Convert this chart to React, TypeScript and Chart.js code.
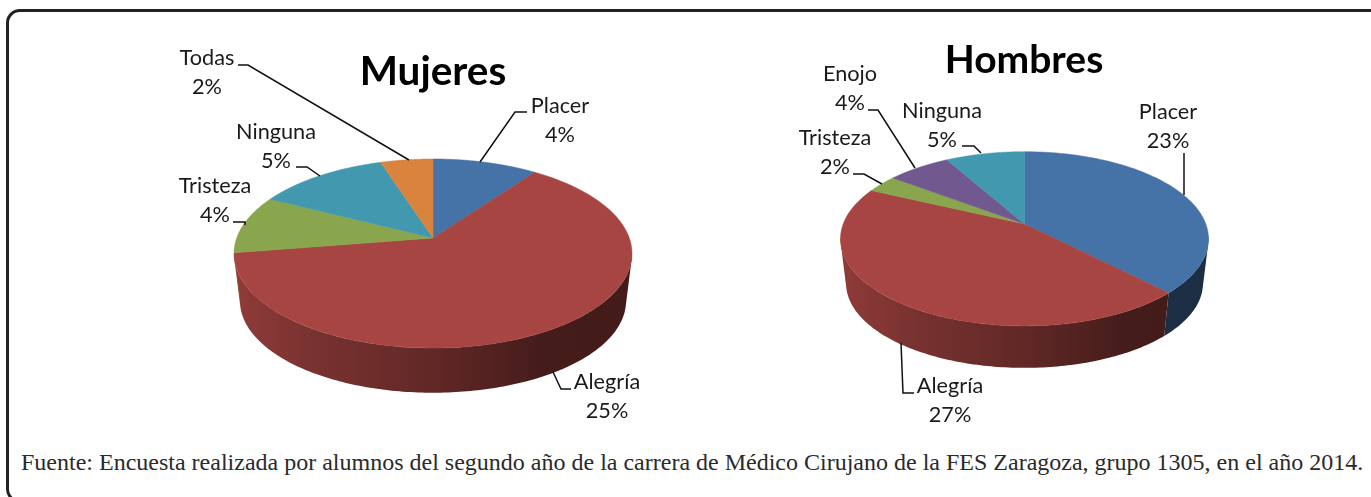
import React, { useEffect, useRef } from "react";
import { Chart, registerables } from "chart.js";

Chart.register(...registerables);

const mujeresLabels = ["Placer", "Alegría", "Tristeza", "Ninguna", "Todas"];
const mujeresValues = [4, 25, 4, 5, 2];
const hombresLabels = ["Placer", "Alegría", "Tristeza", "Enojo", "Ninguna"];
const hombresValues = [23, 27, 2, 4, 5];
const mujeresColors = ["#4572A7", "#A74542", "#89A54E", "#4198AF", "#D9833E"];
const hombresColors = ["#4572A7", "#A74542", "#89A54E", "#71588F", "#4198AF"];
const footnote =
  "Fuente: Encuesta realizada por alumnos del segundo año de la carrera de Médico Cirujano de la FES Zaragoza, grupo 1305, en el año 2014.";

type Pt = [number, number];
interface PieLayout {
  title: string;
  titlePos: Pt;
  titleSize: number;
  apex: Pt;
  A: number;
  B: number;
  k: number;
  scaleBottom: number;
  depth: number;
  labelPos: Pt[];
  leaders: Pt[][];
}

const mujeresLayout: PieLayout = {
  title: "Mujeres",
  titlePos: [433, 72],
  titleSize: 40.5,
  apex: [433, 238],
  A: 196.3,
  B: 92,
  k: 0.164,
  scaleBottom: 0.97,
  depth: 48,
  labelPos: [[560, 106], [607, 382], [215, 186], [276, 132], [207, 58]],
  leaders: [
    [[527, 112], [515, 112], [480, 162]],
    [[553, 372], [561, 389], [571, 389]],
    [[233, 222], [245, 222], [245, 225]],
    [[296, 167], [307, 167], [320, 176]],
    [[238, 65], [248, 65], [409, 160]],
  ],
};

const hombresLayout: PieLayout = {
  title: "Hombres",
  titlePos: [1024, 60],
  titleSize: 39,
  apex: [1024.5, 224],
  A: 181.3,
  B: 84.6,
  k: 0.17,
  scaleBottom: 0.97,
  depth: 45,
  labelPos: [[1168, 112], [950, 386], [835, 138], [850, 74], [942, 111]],
  leaders: [
    [[1184, 153], [1184, 195]],
    [[901, 343], [903, 393], [914, 393]],
    [[853, 174], [864, 174], [882, 184]],
    [[868, 110], [878, 110], [915, 168]],
    [[962, 146], [974, 146], [981, 153]],
  ],
};

function hexRgb(hex: string): number[] {
  const n = parseInt(hex.slice(1), 16);
  return [(n >> 16) & 255, (n >> 8) & 255, n & 255];
}

function shade(hex: string, f: number): string {
  const [r, g, b] = hexRgb(hex);
  return `rgb(${Math.round(r * f)},${Math.round(g * f)},${Math.round(b * f)})`;
}

function signedArea(pts: Pt[]): number {
  let s = 0;
  pts.forEach((p, i) => {
    const q = pts[(i + 1) % pts.length];
    s += p[0] * q[1] - q[0] * p[1];
  });
  return s;
}

function makePlugin(layout: PieLayout, offsetX: number) {
  const [ax, ay] = layout.apex;
  const top = (a: number): Pt => {
    const u = Math.cos(a);
    const v = Math.sin(a);
    const w = 1 - layout.k * v;
    return [ax - offsetX + (layout.A * u) / w, ay + (layout.B * v) / w];
  };
  const bottom = (a: number): Pt => {
    const u = Math.cos(a);
    const v = Math.sin(a);
    const w = 1 - layout.k * v;
    return [
      ax - offsetX + (layout.scaleBottom * layout.A * u) / w,
      ay + layout.depth + (layout.scaleBottom * layout.B * v) / w,
    ];
  };
  return {
    id: "pie3d" + layout.title,
    beforeDatasetDraw(chart: any) {
      const ctx = chart.ctx as CanvasRenderingContext2D;
      const meta = chart.getDatasetMeta(0);
      const colors = chart.data.datasets[0].backgroundColor as string[];
      const left = ax - offsetX - layout.A * 1.02;
      const width = layout.A * 2.04;
      ctx.save();
      meta.data.forEach((arc: any, i: number) => {
        const { startAngle: s, endAngle: e } = arc;
        const g = ctx.createLinearGradient(left, 0, left + width, 0);
        g.addColorStop(0, shade(colors[i], 0.86));
        g.addColorStop(0.2, shade(colors[i], 0.72));
        g.addColorStop(0.5, shade(colors[i], 0.58));
        g.addColorStop(0.78, shade(colors[i], 0.41));
        g.addColorStop(1, shade(colors[i], 0.4));
        const steps = Math.max(2, Math.ceil((e - s) * 60));
        ctx.beginPath();
        let any = false;
        for (let j = 0; j < steps; j++) {
          const a0 = s + ((e - s) * j) / steps;
          const a1 = s + ((e - s) * (j + 1)) / steps;
          if (Math.sin((a0 + a1) / 2) < layout.k - 0.03) continue;
          let pts: Pt[] = [top(a0), top(a1), bottom(a1), bottom(a0)];
          if (signedArea(pts) < 0) pts = pts.reverse();
          pts.forEach((p, n) => (n ? ctx.lineTo(p[0], p[1]) : ctx.moveTo(p[0], p[1])));
          ctx.closePath();
          any = true;
        }
        if (any) {
          ctx.fillStyle = g;
          ctx.fill("nonzero");
        }
      });
      meta.data.forEach((arc: any, i: number) => {
        const steps = 90;
        const { startAngle: s, endAngle: e } = arc;
        ctx.beginPath();
        ctx.moveTo(ax - offsetX, ay);
        for (let j = 0; j <= steps; j++) {
          const p = top(s + ((e - s) * j) / steps);
          ctx.lineTo(p[0], p[1]);
        }
        ctx.closePath();
        ctx.fillStyle = colors[i];
        ctx.strokeStyle = colors[i];
        ctx.lineWidth = 0.5;
        ctx.fill();
        ctx.stroke();
      });
      ctx.restore();
      return false;
    },
    afterDraw(chart: any) {
      const ctx = chart.ctx as CanvasRenderingContext2D;
      const labels = chart.data.labels as string[];
      const values = chart.data.datasets[0].data as number[];
      ctx.save();
      ctx.strokeStyle = "#111";
      ctx.lineWidth = 1.5;
      layout.leaders.forEach((pts) => {
        ctx.beginPath();
        pts.forEach((p, j) =>
          j ? ctx.lineTo(p[0] - offsetX, p[1]) : ctx.moveTo(p[0] - offsetX, p[1])
        );
        ctx.stroke();
      });
      ctx.fillStyle = "#1a1a1a";
      ctx.textAlign = "center";
      ctx.textBaseline = "middle";
      ctx.font = "21.7px Lato";
      labels.forEach((l, i) => {
        const [x, y] = layout.labelPos[i];
        ctx.fillText(l, x - offsetX, y);
        ctx.fillText(`${values[i]}%`, x - offsetX, y + 29);
      });
      ctx.fillStyle = "#000";
      ctx.font = `bold ${layout.titleSize}px Lato`;
      ctx.fillText(layout.title, layout.titlePos[0] - offsetX, layout.titlePos[1]);
      ctx.restore();
    },
  };
}

function makeChart(
  canvas: HTMLCanvasElement,
  labels: string[],
  values: number[],
  colors: string[],
  layout: PieLayout,
  offsetX: number
) {
  return new Chart(canvas, {
    type: "pie",
    data: { labels, datasets: [{ data: values, backgroundColor: colors, borderWidth: 0 }] },
    options: {
      responsive: false,
      animation: false,
      plugins: { legend: { display: false }, tooltip: { enabled: false } },
    },
    plugins: [makePlugin(layout, offsetX)],
  } as any);
}

export default function App() {
  const leftRef = useRef<HTMLCanvasElement>(null);
  const rightRef = useRef<HTMLCanvasElement>(null);
  useEffect(() => {
    const a = makeChart(leftRef.current!, mujeresLabels, mujeresValues, mujeresColors, mujeresLayout, 0);
    const b = makeChart(rightRef.current!, hombresLabels, hombresValues, hombresColors, hombresLayout, 700);
    return () => {
      a.destroy();
      b.destroy();
    };
  }, []);
  return (
    <div style={{ position: "fixed", left: 0, top: 0, width: 1371, height: 497, background: "#fff", overflow: "hidden" }}>
      <div
        style={{
          position: "absolute",
          left: 6,
          top: 9,
          width: 1400,
          height: 488,
          border: "3px solid #222",
          borderRadius: 14,
          boxSizing: "content-box",
        }}
      />
      <canvas ref={leftRef} width={700} height={440} style={{ position: "absolute", left: 0, top: 0 }} />
      <canvas ref={rightRef} width={671} height={440} style={{ position: "absolute", left: 700, top: 0 }} />
      <div
        style={{
          position: "absolute",
          left: 21,
          top: 449,
          whiteSpace: "nowrap",
          fontFamily: '"Liberation Serif", serif',
          fontSize: 24,
          color: "#2a2a2a",
        }}
      >
        {footnote}
      </div>
    </div>
  );
}
